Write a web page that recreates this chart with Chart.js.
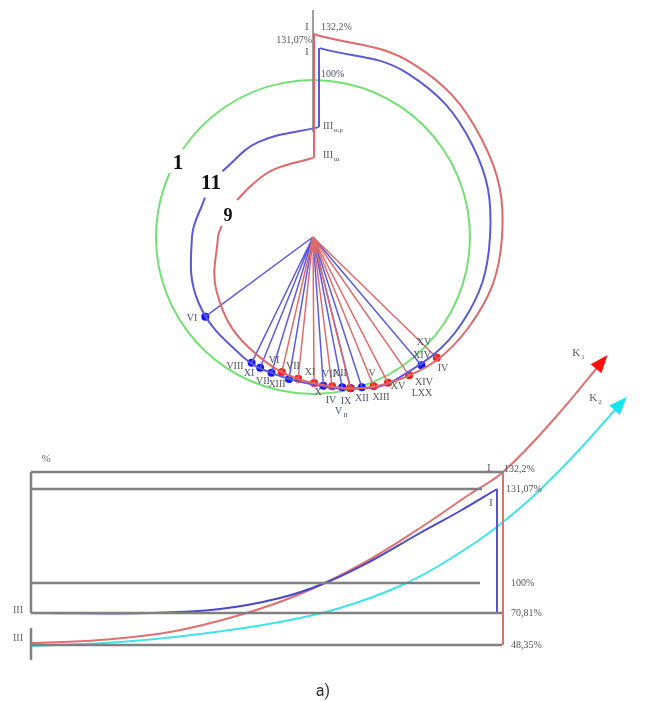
<!DOCTYPE html>
<html>
<head>
<meta charset="utf-8">
<script src="https://cdn.jsdelivr.net/npm/chart.js@4.4.0/dist/chart.umd.min.js"></script>
<style>
  html, body { margin: 0; background: #fff; }
</style>
</head>
<body>
<canvas id="fig" width="646" height="702"></canvas>
<script>
// ---- top diagram, polar: angle in degrees clockwise from the top, radius
let redAngles  = [0, 30, 60, 90, 120, 150, 180, 210, 240, 270, 277, 286, 296, 312, 330, 360];
let redRadii   = [203, 200, 195, 189, 180, 166, 146, 128, 111, 95, 92, null, 84.5, 80, 78, 79];
let blueAngles = [2, 30, 60, 90, 120, 150, 165, 180, 195, 210, 240, 270, 290, 298, 306, 330, 363];
let blueRadii  = [189, 189, 184, 177, 172, 165, 157, 147.5, 142.5, 139, 132, 121, 115, null, 112, 109.5, 110];
let greenRadius = 157;
let greenGap = [294, 304];

// points on the spirals and the rays to them
let blueDotAngles = [233.5, 206, 202, 197, 189.6, 176, 169, 166, 162, 139.8];
let blueDotRadii  = [134, 140, 141, 142, 144, 149, 153, 156, 158, 168];
let redDotAngles  = [193, 186, 179.6, 172.7, 166.2, 157.9, 152.8, 145.2, 134.3];
let redDotRadii   = [138.5, 142.5, 146, 150.5, 155.5, 161, 164, 168.5, 173];

// ---- bottom diagram
let levelNames = ['132,2%', '131,07%', '100%', '70,81%', '48,35%'];
let levelY     = [472, 489, 583, 613, 645];
let levelEnd   = [503, 482, 480, 502, 502];
let blueCurveX = [31, 150, 220, 280, 325, 371, 420, 460, 497];
let blueCurveY = [613, 613, 609, 598, 583, 561, 533, 511, 489];
let redCurveX  = [31, 100, 170, 240, 300, 360, 420, 470, 503, 555, 605];
let redCurveY  = [643, 640, 632, 615, 594, 565, 528, 494, 472, 418, 358];
let cyanCurveX = [31, 120, 200, 280, 340, 400, 445, 503, 560, 624];
let cyanCurveY = [646, 642, 634, 622, 608, 586, 562, 522, 470, 400];

const CX = 313, CY = 237;

function polar(a, r) {
  if (r === null) return {x: null, y: null};
  let t = a * Math.PI / 180;
  return {x: CX + r * Math.sin(t), y: CY - r * Math.cos(t)};
}

function polarSeries(angles, radii) {
  let pts = [];
  for (let i = 0; i < angles.length; i++) pts.push(polar(angles[i], radii[i]));
  return pts;
}

function xySeries(xs, ys) {
  let pts = [];
  for (let i = 0; i < xs.length; i++) pts.push({x: xs[i], y: ys[i]});
  return pts;
}

// rays from the centre, broken by nulls
function rays(angles, radii) {
  let pts = [];
  for (let i = 0; i < angles.length; i++) {
    pts.push({x: CX, y: CY});
    pts.push(polar(angles[i], radii[i]));
    pts.push({x: null, y: null});
  }
  return pts;
}

function levelLines() {
  let pts = [];
  for (let i = 0; i < levelY.length; i++) {
    pts.push({x: 31, y: levelY[i]});
    pts.push({x: levelEnd[i], y: levelY[i]});
    pts.push({x: null, y: null});
  }
  return pts;
}

function line(data, color, width, tension) {
  return {
    data: data, showLine: true, borderColor: color, borderWidth: width,
    pointRadius: 0, tension: tension || 0, spanGaps: false, fill: false
  };
}

function dots(data, color) {
  return {
    data: data, showLine: false, pointRadius: 4, pointBackgroundColor: color,
    pointBorderColor: color, pointBorderWidth: 0
  };
}

const GRAY = '#808080';
const LBL = '#555';
const LBLB = '#4d5078';

// texts: [text, x, y, align, color, font, subscript]
let texts = [
  ['I', 307, 27, 'center', LBL, '10px "Liberation Serif"'],
  ['132,2%', 321, 27, 'left', LBL, '10px "Liberation Serif"'],
  ['131,07%', 312, 40, 'right', LBL, '10px "Liberation Serif"'],
  ['I', 307, 52, 'center', LBL, '10px "Liberation Serif"'],
  ['100%', 321, 74, 'left', LBLB, '10px "Liberation Serif"'],
  ['III', 323, 126, 'left', LBL, '10px "Liberation Serif"', 'н.р'],
  ['III', 323, 155, 'left', LBL, '10px "Liberation Serif"', 'ш'],
  ['1', 178, 164, 'center', '#111', 'bold 21px "Liberation Serif"'],
  ['11', 211, 184, 'center', '#111', 'bold 21px "Liberation Serif"'],
  ['9', 228, 216, 'center', '#111', 'bold 18px "Liberation Serif"'],
  ['VI', 192, 318, 'center', LBLB, '10px "Liberation Serif"'],
  ['VIII', 235, 366, 'center', LBL, '10px "Liberation Serif"'],
  ['XI', 249, 373, 'center', LBLB, '10px "Liberation Serif"'],
  ['VI', 274, 360, 'center', LBL, '10px "Liberation Serif"'],
  ['VII', 293, 366, 'center', LBL, '10px "Liberation Serif"'],
  ['VII', 263, 381, 'center', LBLB, '10px "Liberation Serif"'],
  ['XIII', 277, 384, 'center', LBL, '10px "Liberation Serif"'],
  ['XI', 310, 372, 'center', LBL, '10px "Liberation Serif"'],
  ['VII', 329, 374, 'center', LBLB, '10px "Liberation Serif"'],
  ['XII', 340, 373, 'center', LBL, '10px "Liberation Serif"'],
  ['V', 372, 373, 'center', LBL, '10px "Liberation Serif"'],
  ['X', 318, 392, 'center', LBLB, '10px "Liberation Serif"'],
  ['IV', 331, 400, 'center', LBLB, '10px "Liberation Serif"'],
  ['IX', 346, 401, 'center', LBLB, '10px "Liberation Serif"'],
  ['V', 341, 411, 'center', LBLB, '10px "Liberation Serif"', 'II'],
  ['XII', 362, 398, 'center', LBLB, '10px "Liberation Serif"'],
  ['XIII', 381, 397, 'center', LBL, '10px "Liberation Serif"'],
  ['XV', 398, 386, 'center', LBL, '10px "Liberation Serif"'],
  ['XIV', 424, 382, 'center', LBL, '10px "Liberation Serif"'],
  ['LXX', 422, 393, 'center', LBL, '10px "Liberation Serif"'],
  ['IV', 443, 368, 'center', LBL, '10px "Liberation Serif"'],
  ['XV', 424, 342, 'center', LBLB, '10px "Liberation Serif"'],
  ['XIV', 422, 355, 'center', LBLB, '10px "Liberation Serif"'],
  ['%', 46, 459, 'center', '#666', '11px "Liberation Serif"'],
  ['I', 489, 468, 'center', '#555', '10px "Liberation Serif"'],
  ['I', 491, 503, 'center', '#555', '10px "Liberation Serif"'],
  ['III', 18, 610, 'center', '#666', '10px "Liberation Serif"'],
  ['III', 18, 638, 'center', '#666', '10px "Liberation Serif"'],
  ['K', 578, 353, 'center', '#555', '11px "Liberation Serif"', '1'],
  ['K', 595, 398, 'center', '#555', '11px "Liberation Serif"', '2'],
  ['a)', 323, 692, 'center', '#333', '16px Roboto']
];
let levelLabelX = [504, 506, 511, 511, 511];

const drawExtras = {
  id: 'drawExtras',
  beforeDatasetsDraw(chart) {
    const ctx = chart.ctx, xs = chart.scales.x, ys = chart.scales.y;
    // green circle, broken where label 1 sits
    let r = xs.getPixelForValue(CX + greenRadius) - xs.getPixelForValue(CX);
    ctx.save();
    ctx.strokeStyle = '#72e072';
    ctx.lineWidth = 2;
    ctx.beginPath();
    let a0 = (greenGap[1] - 90) * Math.PI / 180;
    let a1 = (greenGap[0] + 360 - 90) * Math.PI / 180;
    ctx.arc(xs.getPixelForValue(CX), ys.getPixelForValue(CY), r, a0, a1);
    ctx.stroke();
    ctx.restore();
  },
  afterDatasetsDraw(chart) {
    const ctx = chart.ctx, xs = chart.scales.x, ys = chart.scales.y;
    ctx.save();
    // arrow heads on K1 and K2
    function head(px, py, color) {
      let n = px.length;
      let x1 = xs.getPixelForValue(px[n - 2]), y1 = ys.getPixelForValue(py[n - 2]);
      let x2 = xs.getPixelForValue(px[n - 1]), y2 = ys.getPixelForValue(py[n - 1]);
      let ang = Math.atan2(y2 - y1, x2 - x1);
      ctx.fillStyle = color;
      ctx.beginPath();
      ctx.moveTo(x2 + 4 * Math.cos(ang), y2 + 4 * Math.sin(ang));
      ctx.lineTo(x2 - 14 * Math.cos(ang) - 7 * Math.sin(ang), y2 - 14 * Math.sin(ang) + 7 * Math.cos(ang));
      ctx.lineTo(x2 - 14 * Math.cos(ang) + 7 * Math.sin(ang), y2 - 14 * Math.sin(ang) - 7 * Math.cos(ang));
      ctx.closePath();
      ctx.fill();
    }
    head(redCurveX, redCurveY, '#ff1010');
    head(cyanCurveX, cyanCurveY, '#10e8f0');

    ctx.textBaseline = 'middle';
    function put(t) {
      let x = xs.getPixelForValue(t[1]), y = ys.getPixelForValue(t[2]);
      ctx.font = t[5];
      ctx.fillStyle = t[4];
      let w = ctx.measureText(t[0]).width;
      let sw = 0;
      if (t[6]) {
        ctx.font = t[5].replace(/\d+px/, '7px');
        sw = ctx.measureText(t[6]).width;
        ctx.font = t[5];
      }
      let left = x;
      if (t[3] === 'center') left = x - (w + sw) / 2;
      if (t[3] === 'right') left = x - w - sw;
      ctx.textAlign = 'left';
      ctx.fillText(t[0], left, y);
      if (t[6]) {
        ctx.font = t[5].replace(/\d+px/, '7px');
        ctx.fillText(t[6], left + w + 1, y + 4);
      }
    }
    texts.forEach(put);
    for (let i = 0; i < levelNames.length; i++) {
      put([levelNames[i], levelLabelX[i], levelY[i] + (i === 0 ? -3 : 0), 'left', '#555', '10px "Liberation Serif"']);
    }
    ctx.restore();
  }
};

new Chart(document.getElementById('fig'), {
  type: 'scatter',
  data: {
    datasets: [
      // top diagram
      line([{x: 313, y: 10}, {x: 313, y: 132}], GRAY, 1.5),
      line([{x: 314, y: 34}, {x: 314, y: 158}], '#e06868', 2),
      line([{x: 319, y: 48}, {x: 319, y: 127}], '#5a5ad8', 2),
      line(polarSeries(redAngles, redRadii), '#e06868', 2, 0.4),
      line(polarSeries(blueAngles, blueRadii), '#5a5ad8', 2, 0.4),
      line(rays(redDotAngles, redDotRadii), '#e06a6a', 1.5),
      line(rays(blueDotAngles, blueDotRadii), '#5b5be0', 1.5),
      dots(polarSeries(redDotAngles, redDotRadii), '#ff1a1a'),
      dots(polarSeries(blueDotAngles, blueDotRadii), '#1414ff'),
      // bottom diagram
      line(levelLines(), GRAY, 2.5),
      line([{x: 31, y: 472}, {x: 31, y: 613}], GRAY, 2.5),
      line([{x: 31, y: 628}, {x: 31, y: 660}], GRAY, 2.5),
      line([{x: 503, y: 472}, {x: 503, y: 645}], '#e07070', 2),
      line([{x: 497, y: 489}, {x: 497, y: 613}], '#5555d0', 2),
      line(xySeries(cyanCurveX, cyanCurveY), '#40e4e8', 2, 0.4),
      line(xySeries(blueCurveX, blueCurveY), '#4a4ac8', 2, 0.4),
      line(xySeries(redCurveX, redCurveY), '#e07070', 2, 0.4)
    ]
  },
  options: {
    responsive: false,
    animation: false,
    layout: {padding: 0, autoPadding: false},
    plugins: {legend: {display: false}, tooltip: {enabled: false}},
    scales: {
      x: {type: 'linear', min: 0, max: 646, display: false},
      y: {type: 'linear', min: 0, max: 702, reverse: true, display: false}
    }
  },
  plugins: [drawExtras]
});
</script>
</body>
</html>
